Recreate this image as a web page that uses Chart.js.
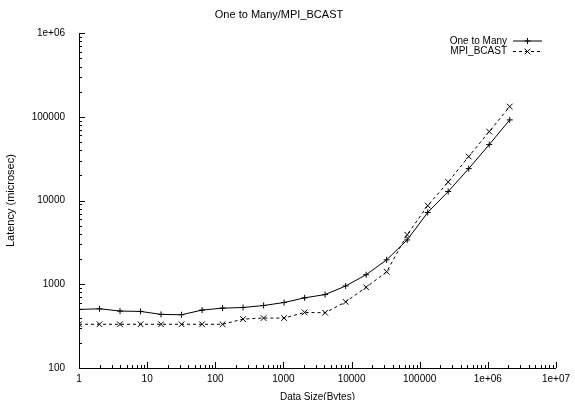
<!DOCTYPE html>
<html>
<head>
<meta charset="utf-8">
<title>One to Many/MPI_BCAST</title>
<script src="https://cdn.jsdelivr.net/npm/chart.js@4.4.1/dist/chart.umd.min.js"></script>
<style>
  html, body { margin: 0; padding: 0; background: #fff; }
  #chart { display: block; }
</style>
</head>
<body>
<canvas id="chart" width="575" height="400"></canvas>
<script>
// data (latency in microsec)
const sizes = [1, 2, 4, 8, 16, 32, 64, 128, 256, 512, 1024, 2048, 4096, 8192,
  16384, 32768, 65536, 131072, 262144, 524288, 1048576, 2097152];
const oneToMany = [501, 510, 479, 474, 437, 433, 492, 519, 528, 558, 606, 689, 754, 955,
  1302, 1961, 3388, 7212, 12830, 24100, 46700, 92100];
const mpiBcast = [333, 333, 333, 333, 333, 333, 333, 333, 384, 395, 395, 461, 457, 617,
  921, 1413, 3917, 8710, 16700, 33600, 66800, 132900];

const xDecades = [1, 10, 100, 1000, 10000, 100000, 1000000, 10000000];
const yDecades = [100, 1000, 10000, 100000, 1000000];

const FONT = "'Liberation Sans', Arial, sans-serif";

function isDecade(v) {
  const l = Math.log10(v);
  return Math.abs(l - Math.round(l)) < 1e-9;
}

function withMinors(decades) {
  let out = [];
  decades.forEach((d, i) => {
    out.push(d);
    if (i < decades.length - 1) {
      for (let k = 2; k <= 9; k++) out.push(d * k);
    }
  });
  return out;
}

function fmt(v) {
  if (v >= 1000000) return '1e+0' + Math.round(Math.log10(v));
  return String(v);
}

//------------- inward tick marks, gnuplot style -------------
const inwardTicks = {
  id: 'inwardTicks',
  afterDatasetsDraw(chart) {
    const {ctx, chartArea, scales} = chart;
    const x = scales.x, y = scales.y;
    ctx.save();
    ctx.strokeStyle = '#000';
    ctx.lineWidth = 1;
    ctx.beginPath();
    x.ticks.forEach(t => {
      const px = Math.round(x.getPixelForValue(t.value)) + 0.5;
      const len = isDecade(t.value) ? 6 : 3;
      ctx.moveTo(px, chartArea.bottom);
      ctx.lineTo(px, chartArea.bottom - len);
    });
    y.ticks.forEach(t => {
      const py = Math.round(y.getPixelForValue(t.value)) + 0.5;
      const len = isDecade(t.value) ? 6 : 3;
      ctx.moveTo(chartArea.left, py);
      ctx.lineTo(chartArea.left + len, py);
    });
    ctx.stroke();
    ctx.restore();
  }
};

//------------- key in the top right corner -------------
const keyBox = {
  id: 'keyBox',
  afterDraw(chart) {
    const ctx = chart.ctx;
    ctx.save();
    ctx.font = '10px ' + FONT;
    ctx.textAlign = 'right';
    ctx.textBaseline = 'middle';
    ctx.fillStyle = '#000';
    ctx.strokeStyle = '#000';
    ctx.lineWidth = 1;
    chart.data.datasets.forEach((ds, i) => {
      const yy = 41 + i * 10.5;
      ctx.fillText(ds.label, 507, yy);
      ctx.setLineDash(ds.borderDash || []);
      ctx.beginPath();
      ctx.moveTo(513, yy);
      ctx.lineTo(542, yy);
      ctx.stroke();
      ctx.setLineDash([]);
      Chart.helpers.drawPoint(ctx, {pointStyle: ds.pointStyle, radius: ds.pointRadius, borderWidth: 1, rotation: 0}, 527.5, yy);
    });
    ctx.restore();
  }
};

const ctx = document.getElementById('chart').getContext('2d');

const config = {
  type: 'line',
  data: {
    labels: sizes,
    datasets: [{
      label: 'One to Many',
      data: sizes.map((s, i) => ({x: s, y: oneToMany[i]})),
      borderColor: '#000',
      backgroundColor: '#000',
      borderWidth: 1,
      pointStyle: 'cross',
      pointRadius: 3,
      pointBorderWidth: 1,
      pointBorderColor: '#000',
      tension: 0,
      fill: false
    }, {
      label: 'MPI_BCAST',
      data: sizes.map((s, i) => ({x: s, y: mpiBcast[i]})),
      borderColor: '#000',
      backgroundColor: '#000',
      borderWidth: 1,
      borderDash: [3, 3],
      pointStyle: 'crossRot',
      pointRadius: 4,
      pointBorderWidth: 1,
      pointBorderColor: '#000',
      tension: 0,
      fill: false
    }]
  },
  options: {
    responsive: false,
    animation: false,
    events: [],
    layout: { padding: { left: 0, right: 17, top: 0, bottom: 0 } },
    scales: {
      x: {
        type: 'logarithmic',
        min: 1,
        max: 10000000,
        afterBuildTicks: (scale) => { scale.ticks = withMinors(xDecades).map(v => ({value: v})); },
        afterFit: (scale) => { scale.height = 32; },
        grid: { display: false, drawTicks: false },
        border: { display: true, color: '#000', width: 1 },
        ticks: {
          autoSkip: false,
          maxRotation: 0,
          padding: 5,
          color: '#000',
          font: { family: FONT, size: 10 },
          callback: (v) => isDecade(v) ? fmt(v) : ''
        },
        title: {
          display: true,
          text: 'Data Size(Bytes)',
          color: '#000',
          font: { family: FONT, size: 10 },
          padding: { top: 0, bottom: -3 }
        }
      },
      y: {
        type: 'logarithmic',
        min: 100,
        max: 1000000,
        afterBuildTicks: (scale) => { scale.ticks = withMinors(yDecades).map(v => ({value: v})); },
        afterFit: (scale) => { scale.width = 79; },
        grid: { display: false, drawTicks: false },
        border: { display: true, color: '#000', width: 1 },
        ticks: {
          autoSkip: false,
          padding: 14,
          color: '#000',
          font: { family: FONT, size: 10 },
          callback: (v) => isDecade(v) ? fmt(v) : ''
        },
        title: {
          display: true,
          text: 'Latency (microsec)',
          color: '#000',
          font: { family: FONT, size: 11 },
          padding: { top: 4, bottom: 0 }
        }
      }
    },
    plugins: {
      legend: { display: false },
      tooltip: { enabled: false },
      title: {
        display: true,
        text: 'One to Many/MPI_BCAST',
        color: '#000',
        font: { family: FONT, size: 11, weight: 'normal' },
        padding: { top: 8, bottom: 12 }
      }
    }
  },
  plugins: [inwardTicks, keyBox]
};

new Chart(ctx, config);
</script>
</body>
</html>
